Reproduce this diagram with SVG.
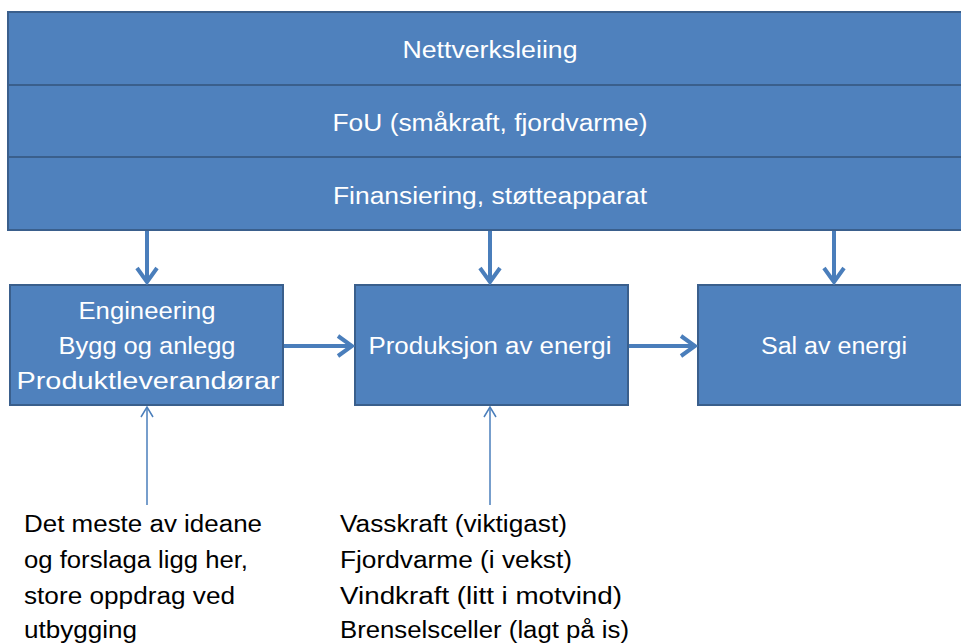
<svg xmlns="http://www.w3.org/2000/svg" width="961" height="644" viewBox="0 0 961 644">
<style>
.box{fill:#4f81bd;stroke:#3a5f8c;stroke-width:2}
.wt{fill:#fff;font-family:"Liberation Sans",Arial,sans-serif;font-size:23px;text-anchor:middle}
.bt{fill:#000;font-family:"Liberation Sans",Arial,sans-serif;font-size:23px}
.thick{stroke:#4a7ebb;stroke-width:4;fill:none}
.thin{stroke:#4a7ebb;stroke-width:1.5;fill:none}
</style>
<defs>
<marker id="ah" markerUnits="userSpaceOnUse" viewBox="0 0 20 24" refX="17" refY="12" markerWidth="20" markerHeight="24" orient="auto">
<path d="M3,2 L17,12 L3,22" fill="none" stroke="#4a7ebb" stroke-width="4"/>
</marker>
<marker id="ahs" markerUnits="userSpaceOnUse" viewBox="0 0 12 14" refX="11" refY="7" markerWidth="12" markerHeight="14" orient="auto">
<path d="M1,1 L11,7 L1,13" fill="none" stroke="#4a7ebb" stroke-width="1.5"/>
</marker>
</defs>
<g id="nettverksleiing"><rect class="box" x="8" y="12" width="962" height="73"/><text class="wt" x="490" y="58" textLength="175" lengthAdjust="spacingAndGlyphs">Nettverksleiing</text></g>
<g id="fou"><rect class="box" x="8" y="85" width="962" height="72"/><text class="wt" x="490" y="131" textLength="315" lengthAdjust="spacingAndGlyphs">FoU (småkraft, fjordvarme)</text></g>
<g id="finansiering"><rect class="box" x="8" y="157" width="962" height="73"/><text class="wt" x="490" y="204" textLength="314" lengthAdjust="spacingAndGlyphs">Finansiering, støtteapparat</text></g>
<g id="engineering"><rect class="box" x="10" y="285" width="273" height="120"/>
<text class="wt" x="147" y="319" textLength="137" lengthAdjust="spacingAndGlyphs">Engineering</text>
<text class="wt" x="147" y="354" textLength="177" lengthAdjust="spacingAndGlyphs">Bygg og anlegg</text>
<text class="wt" x="148" y="389" textLength="263" lengthAdjust="spacingAndGlyphs">Produktleverandørar</text></g>
<g id="produksjon"><rect class="box" x="355" y="285" width="273" height="120"/><text class="wt" x="490" y="354" textLength="243" lengthAdjust="spacingAndGlyphs">Produksjon av energi</text></g>
<g id="sal"><rect class="box" x="698" y="285" width="273" height="120"/><text class="wt" x="834" y="354" textLength="146" lengthAdjust="spacingAndGlyphs">Sal av energi</text></g>
<g id="note-left">
<text class="bt" x="24" y="532" textLength="238" lengthAdjust="spacingAndGlyphs">Det meste av ideane</text>
<text class="bt" x="24" y="568" textLength="224" lengthAdjust="spacingAndGlyphs">og forslaga ligg her,</text>
<text class="bt" x="24" y="604" textLength="211" lengthAdjust="spacingAndGlyphs">store oppdrag ved</text>
<text class="bt" x="24" y="638" textLength="113" lengthAdjust="spacingAndGlyphs">utbygging</text>
</g>
<g id="note-right">
<text class="bt" x="340" y="532" textLength="227" lengthAdjust="spacingAndGlyphs">Vasskraft (viktigast)</text>
<text class="bt" x="340" y="568" textLength="232" lengthAdjust="spacingAndGlyphs">Fjordvarme (i vekst)</text>
<text class="bt" x="340" y="604" textLength="282" lengthAdjust="spacingAndGlyphs">Vindkraft (litt i motvind)</text>
<text class="bt" x="340" y="638" textLength="289" lengthAdjust="spacingAndGlyphs">Brenselsceller (lagt på is)</text>
</g>
<g id="connectors">
<line class="thick" x1="147" y1="231" x2="147" y2="282" marker-end="url(#ah)"/>
<line class="thick" x1="490" y1="231" x2="490" y2="282" marker-end="url(#ah)"/>
<line class="thick" x1="834" y1="231" x2="834" y2="282" marker-end="url(#ah)"/>
<line class="thick" x1="284" y1="346" x2="352" y2="346" marker-end="url(#ah)"/>
<line class="thick" x1="629" y1="346" x2="695" y2="346" marker-end="url(#ah)"/>
<line class="thin" x1="147" y1="505" x2="147" y2="407" marker-end="url(#ahs)"/>
<line class="thin" x1="490" y1="505" x2="490" y2="407" marker-end="url(#ahs)"/>
</g>
</svg>
